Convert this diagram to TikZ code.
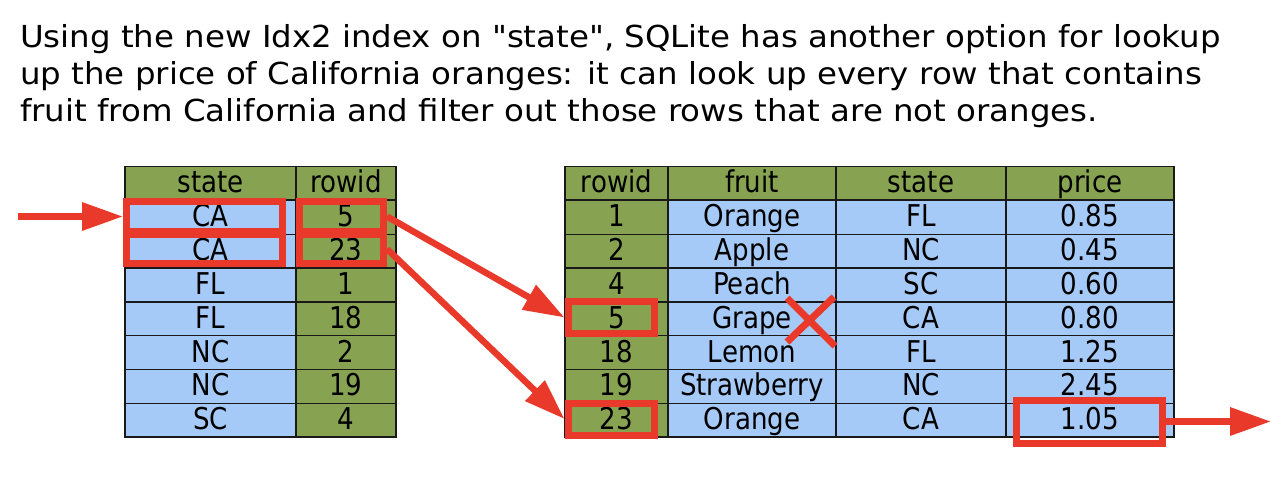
\documentclass[tikz,border=0pt]{standalone}
\usepackage{fontspec}
\setmainfont{DejaVu Sans}
\newfontfamily\titlefont{DejaVu Sans}[FakeStretch=1.07]
\newfontfamily\tabfont{DejaVu Sans}[FakeStretch=0.87]
\usetikzlibrary{arrows.meta}
\definecolor{hdrgreen}{HTML}{87A352}
\definecolor{cellblue}{HTML}{A6CAF7}
\definecolor{markred}{HTML}{E8392B}
\begin{document}
\begin{tikzpicture}[x=1pt,y=-1pt,
  cell/.style={draw=black!90, line width=1.5pt, inner sep=0pt, minimum height=33.8pt,
    text height=25pt, text depth=6.2pt, font=\tabfont\fontsize{30}{30}\selectfont},
  gcell/.style={cell, fill=hdrgreen},
  bcell/.style={cell, fill=cellblue},
  redbox/.style={draw=markred, line width=7pt, inner sep=0pt},
  redarrow/.style={draw=markred, line width=6.5pt, -{Triangle[length=41pt,width=27pt]}},
  titletext/.style={anchor=base west, inner sep=0pt, font=\titlefont\fontsize{30.3}{37}\selectfont},
]
\useasboundingbox (0,0) rectangle (1288,488);

% title
\node[titletext] (t1) at (20,47) {Using the new Idx2 index on "state", SQLite has another option for lookup};
\node[titletext] (t2) at (20,84) {up the price of California oranges: it can look up every row that contains};
\node[titletext] (t3) at (20,121) {fruit from California and filter out those rows that are not oranges.};

% left table (index)
\node[gcell, minimum width=171pt] (lsh) at (210.5,183.25) {state};
\node[gcell, minimum width=100pt] (lrh) at (346,183.25) {rowid};
\foreach \v [count=\i] in {CA,CA,FL,FL,NC,NC,SC}
  \node[bcell, minimum width=171pt] (ls\i) at (210.5,{200.5+33.8*(\i-0.5)}) {\v};
\foreach \v [count=\i] in {5,23,1,18,2,19,4}
  \node[gcell, minimum width=100pt] (lr\i) at (346,{200.5+33.8*(\i-0.5)}) {\v};

% right table
\node[gcell, minimum width=103pt] (rrh) at (616.5,183.25) {rowid};
\node[gcell, minimum width=168pt] (rfh) at (752,183.25) {fruit};
\node[gcell, minimum width=170pt] (rsh) at (921,183.25) {state};
\node[gcell, minimum width=168pt] (rph) at (1090,183.25) {price};
\foreach \v [count=\i] in {1,2,4,5,18,19,23}
  \node[gcell, minimum width=103pt] (rr\i) at (616.5,{200.5+33.8*(\i-0.5)}) {\v};
\foreach \v [count=\i] in {Orange,Apple,Peach,Grape,Lemon,Strawberry,Orange}
  \node[bcell, minimum width=168pt] (rf\i) at (752,{200.5+33.8*(\i-0.5)}) {\v};
\foreach \v [count=\i] in {FL,NC,SC,CA,FL,NC,CA}
  \node[bcell, minimum width=170pt] (rs\i) at (921,{200.5+33.8*(\i-0.5)}) {\v};
\foreach \v [count=\i] in {0.85,0.45,0.60,0.80,1.25,2.45,1.05}
  \node[bcell, minimum width=168pt] (rp\i) at (1090,{200.5+33.8*(\i-0.5)}) {\v};

% red highlight boxes
\node[redbox, minimum width=156pt, minimum height=30pt] (bs1) at (204.5,216.5) {};
\node[redbox, minimum width=156pt, minimum height=29pt] (bs2) at (204.5,249) {};
\node[redbox, minimum width=84pt, minimum height=30pt] (br1) at (341.5,216.5) {};
\node[redbox, minimum width=84pt, minimum height=29pt] (br2) at (341.5,249) {};
\node[redbox, minimum width=86pt, minimum height=32pt] (b5) at (611,317.5) {};
\node[redbox, minimum width=86pt, minimum height=32pt] (b23) at (611,419) {};
\node[redbox, minimum width=146pt, minimum height=43pt] (bp) at (1089,421.5) {};

% arrows
\coordinate (in) at (18,216.5);
\coordinate (out) at (1271,421.5);
\draw[redarrow] (in) -- (bs1.west);
\draw[redarrow] (br1.east) -- (b5.west);
\draw[redarrow] (br2.east) -- (b23.west);
\draw[redarrow] (bp.east) -- (out);

% red cross on Grape
\coordinate (x1) at (787,298);
\coordinate (x2) at (835,346);
\coordinate (x3) at (834,297);
\coordinate (x4) at (787,342);
\draw[markred, line width=7pt] (x1) -- (x2);
\draw[markred, line width=7pt] (x3) -- (x4);
\end{tikzpicture}
\end{document}
